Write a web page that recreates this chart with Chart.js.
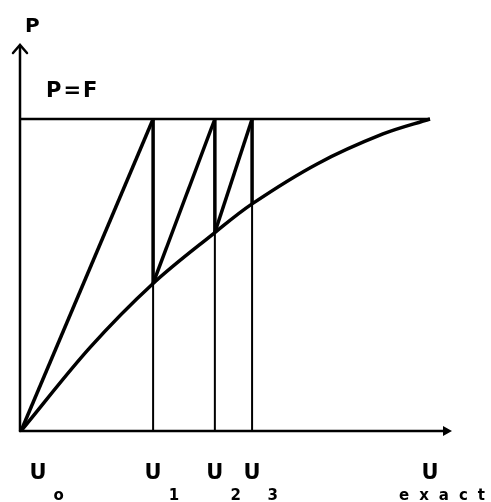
<!DOCTYPE html>
<html lang="en">
<head>
  <meta charset="UTF-8">
  <title>Newton-Raphson iteration</title>
  <script src="https://cdn.jsdelivr.net/npm/chart.js"></script>
  <style>
    html, body { margin: 0; padding: 0; background: #fff; }
    canvas { display: block; }
  </style>
</head>
<body>
  <canvas id="chart" width="491" height="502"></canvas>

  <script>
    // load-displacement curve (U normalised to U exact, P normalised to F)
    const curveU = [0, 0.169, 0.323, 0.474, 0.565, 0.724, 0.885, 1.0];
    const curveP = [0, 0.268, 0.473, 0.636, 0.728, 0.856, 0.952, 1.0];

    // iterates U0..U3 and the load reached on the curve at each
    const iterU = [0, 0.323, 0.474, 0.565];
    const iterP = [0, 0.473, 0.636, 0.728];

    const loadF = 1.0;
    const uExact = 1.0;

    const xLabels = ['U', 'U', 'U', 'U', 'U'];
    const xSubs = ['o', '1', '2', '3', 'exact'];
    const xLabelValues = [iterU[0], iterU[1], iterU[2], iterU[3], uExact];

    const BLACK = '#000';

    function seg(x1, y1, x2, y2, width) {
      return {
        data: [{ x: x1, y: y1 }, { x: x2, y: y2 }],
        borderColor: BLACK,
        borderWidth: width,
        pointRadius: 0,
        showLine: true,
        clip: false
      };
    }

    const datasets = [];

    // curve
    datasets.push({
      data: curveU.map((u, i) => ({ x: u, y: curveP[i] })),
      borderColor: BLACK,
      borderWidth: 3.5,
      pointRadius: 0,
      showLine: true,
      tension: 0.35,
      clip: false
    });

    // P = F line
    datasets.push(seg(0, loadF, uExact, loadF, 2.5));

    for (let i = 1; i < iterU.length; i++) {
      // tangent from previous point up to P = F
      datasets.push(seg(iterU[i - 1], iterP[i - 1], iterU[i], loadF, 3.5));
      // drop back to the curve
      datasets.push(seg(iterU[i], loadF, iterU[i], iterP[i], 3.5));
      // thin line down to the axis
      datasets.push(seg(iterU[i], iterP[i], iterU[i], 0, 2));
    }

    const annotate = {
      id: 'annotate',
      afterDraw(chart) {
        const ctx = chart.ctx;
        const xs = chart.scales.x;
        const ys = chart.scales.y;
        const x0 = xs.getPixelForValue(0) - 1;
        const y0 = ys.getPixelForValue(0);

        ctx.save();
        ctx.strokeStyle = BLACK;
        ctx.fillStyle = BLACK;
        ctx.lineWidth = 2.5;
        ctx.lineCap = 'round';

        // vertical axis with arrow
        ctx.beginPath();
        ctx.moveTo(x0, y0);
        ctx.lineTo(x0, 46);
        ctx.stroke();
        ctx.beginPath();
        ctx.moveTo(x0 - 7, 53);
        ctx.lineTo(x0, 45);
        ctx.lineTo(x0 + 7, 53);
        ctx.stroke();

        // horizontal axis with arrow
        const xEnd = 452;
        ctx.beginPath();
        ctx.moveTo(x0, y0);
        ctx.lineTo(xEnd - 4, y0);
        ctx.stroke();
        ctx.beginPath();
        ctx.moveTo(xEnd, y0);
        ctx.lineTo(xEnd - 9, y0 - 5);
        ctx.lineTo(xEnd - 9, y0 + 5);
        ctx.closePath();
        ctx.fill();

        // texts
        ctx.textBaseline = 'alphabetic';
        ctx.textAlign = 'left';
        ctx.font = 'bold 20px "DejaVu Sans"';
        ctx.fillText('P', 25, 32);
        ctx.font = 'bold 21px "DejaVu Sans"';
        ctx.letterSpacing = '2px';
        ctx.fillText('P=F', 46, 97);
        ctx.letterSpacing = '0px';

        xLabels.forEach((lab, i) => {
          let px = xs.getPixelForValue(xLabelValues[i]);
          px = Math.max(px, x0 + 18);
          ctx.font = 'bold 21px "DejaVu Sans"';
          ctx.textAlign = 'center';
          ctx.fillText(lab, px, 479);
          const w = ctx.measureText(lab).width;
          ctx.font = 'bold 15px "DejaVu Sans"';
          ctx.textAlign = 'left';
          if (xSubs[i].length > 1) {
            ctx.letterSpacing = '10px';
            ctx.fillText(xSubs[i], px - 31, 500);
            ctx.letterSpacing = '0px';
          } else {
            ctx.fillText(xSubs[i], px + w / 2 + 7, 500);
          }
        });
        ctx.restore();
      }
    };

    new Chart(document.getElementById('chart'), {
      type: 'scatter',
      data: { datasets },
      options: {
        responsive: false,
        animation: false,
        events: [],
        layout: { padding: { left: 21, right: 61, top: 119, bottom: 71 } },
        plugins: {
          legend: { display: false },
          tooltip: { enabled: false }
        },
        scales: {
          x: { type: 'linear', min: 0, max: 1, display: false },
          y: { type: 'linear', min: 0, max: 1, display: false }
        }
      },
      plugins: [annotate]
    });
  </script>
</body>
</html>
